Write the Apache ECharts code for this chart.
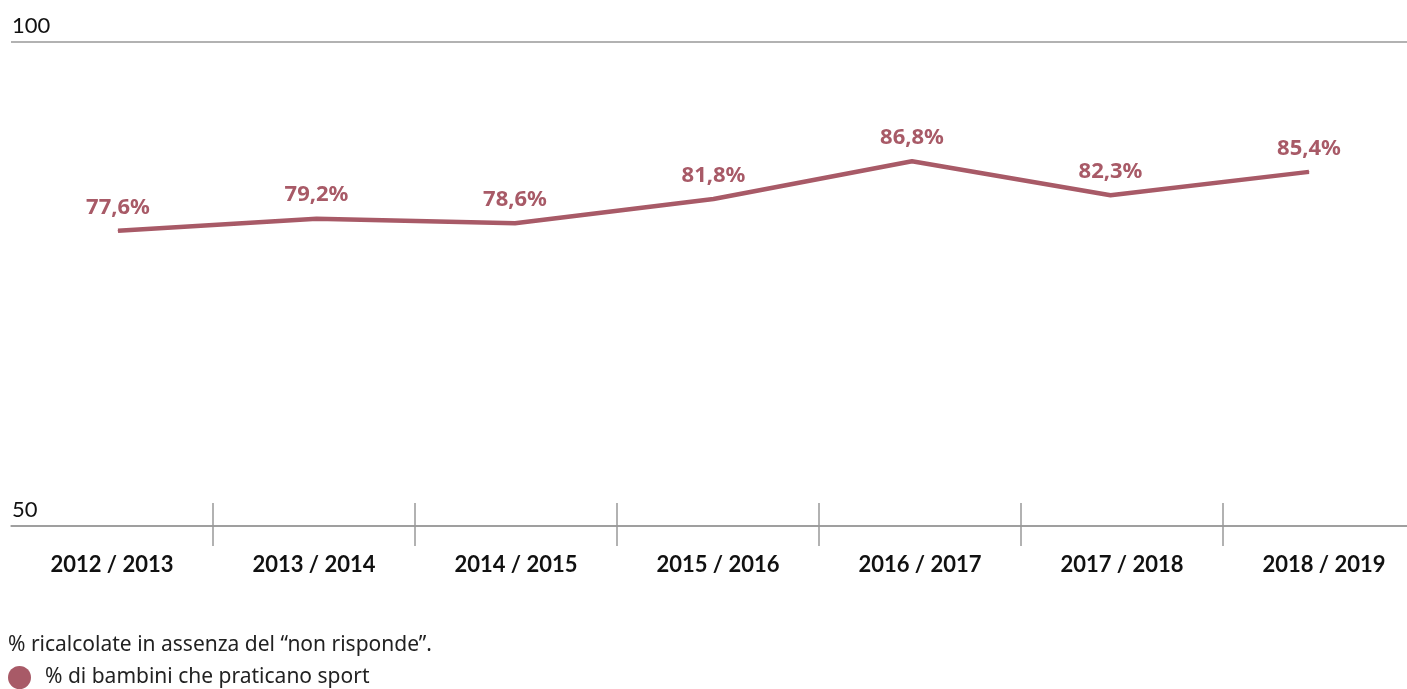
<!DOCTYPE html>
<html>
<head>
<meta charset="utf-8">
<script src="https://cdn.jsdelivr.net/npm/echarts@6/dist/echarts.min.js"></script>
<style>
  html, body { margin: 0; padding: 0; background: #fff; }
  #chart { width: 1407px; height: 689px; }
</style>
</head>
<body>
<div id="chart"></div>
<script>
// data
var categories = ['2012 / 2013', '2013 / 2014', '2014 / 2015', '2015 / 2016', '2016 / 2017', '2017 / 2018', '2018 / 2019'];
var values = [77.6, 79.2, 78.6, 81.8, 86.8, 82.3, 85.4];
var yTicks = [50, 100];
var seriesName = '% di bambini che praticano sport';
var footnote = '% ricalcolate in assenza del \u201cnon risponde\u201d.';

(function () {
  var myChart = echarts.init(document.getElementById('chart'));
  var lineColor = '#a85a67';
  var gridColor = '#999';

  var option = {
    animation: false,
    backgroundColor: '#fff',
    title: {
      text: footnote,
      left: 8,
      top: 635,
      padding: 0,
      textStyle: { fontFamily: 'Noto Sans', fontSize: 21, fontWeight: 'normal', color: '#222' }
    },
    legend: {
      data: [seriesName],
      left: 8,
      top: 666,
      padding: 0,
      icon: 'circle',
      itemWidth: 23,
      itemHeight: 23,
      textStyle: { fontFamily: 'Noto Sans', fontSize: 21, color: '#222', padding: [0, 0, 0, 9] }
    },
    grid: [
      // grid with the visible axes
      { left: 11, right: -18, top: 42, bottom: 163, containLabel: false, outerBoundsMode: 'none' },
      // grid holding the line
      { left: 118, right: 98, top: 42, bottom: 163, containLabel: false, outerBoundsMode: 'none' }
    ],
    xAxis: [
      {
        gridIndex: 0,
        type: 'category',
        position: 'bottom',
        data: categories,
        boundaryGap: true,
        axisLine: { show: true, lineStyle: { color: gridColor, width: 1.5 } },
        axisTick: {
          show: true, length: 20,
          interval: function (i) { return i > 0; },
          lineStyle: { color: gridColor, width: 1.5 }
        },
        axisLabel: {
          interval: 0, margin: 28,
          fontFamily: 'Lato', fontSize: 22, fontWeight: 'bold', color: '#111'
        }
      },
      {
        // ticks going up from the axis
        gridIndex: 0,
        type: 'category',
        position: 'bottom',
        data: categories,
        boundaryGap: true,
        axisLine: { show: false },
        axisTick: {
          show: true, inside: true, length: 23,
          interval: function (i) { return i > 0; },
          lineStyle: { color: gridColor, width: 1.5 }
        },
        axisLabel: { show: false }
      },
      {
        gridIndex: 1,
        type: 'category',
        data: categories,
        boundaryGap: false,
        show: false
      }
    ],
    yAxis: [
      {
        gridIndex: 0,
        type: 'value',
        min: yTicks[0],
        max: yTicks[1],
        interval: yTicks[1] - yTicks[0],
        axisLine: { show: false },
        axisTick: { show: false },
        splitLine: { show: true, lineStyle: { color: gridColor, width: 1.5 } },
        axisLabel: {
          inside: true, margin: 1,
          verticalAlign: 'bottom',
          padding: [0, 0, 5, 0],
          fontFamily: 'Lato', fontSize: 22, color: '#111'
        }
      },
      {
        gridIndex: 1,
        type: 'value',
        min: 38.5,
        max: 102.6,
        show: false
      }
    ],
    series: [{
      name: seriesName,
      type: 'line',
      xAxisIndex: 2,
      yAxisIndex: 1,
      data: values,
      color: lineColor,
      symbol: 'circle',
      symbolSize: 1,
      lineStyle: { color: lineColor, width: 4.5 },
      itemStyle: { color: lineColor },
      label: {
        show: true,
        position: 'top',
        distance: 12,
        fontFamily: 'Noto Sans', fontSize: 22, fontWeight: 'bold', color: lineColor,
        formatter: function (p) { return p.value.toFixed(1).replace('.', ',') + '%'; }
      }
    }]
  };

  myChart.setOption(option);
  window.addEventListener('resize', function () {
    myChart.resize();
  });
})();
</script>
</body>
</html>
